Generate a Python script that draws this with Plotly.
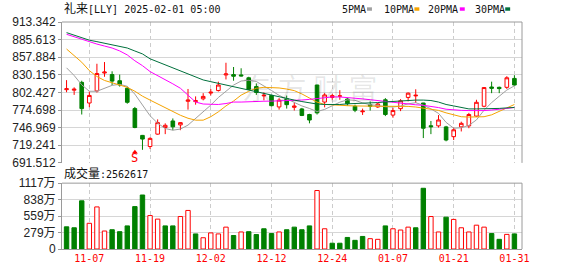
import plotly.graph_objects as go

# ---------------- data ----------------
dates = [
    "2024-11-04", "2024-11-05", "2024-11-06", "2024-11-07", "2024-11-08", "2024-11-11", "2024-11-12",
    "2024-11-13", "2024-11-14", "2024-11-15", "2024-11-18", "2024-11-19", "2024-11-20", "2024-11-21",
    "2024-11-22", "2024-11-25", "2024-11-26", "2024-11-27", "2024-11-29",
    "2024-12-02", "2024-12-03", "2024-12-04", "2024-12-05", "2024-12-06", "2024-12-09", "2024-12-10",
    "2024-12-11", "2024-12-12", "2024-12-13", "2024-12-16", "2024-12-17", "2024-12-18", "2024-12-19",
    "2024-12-20", "2024-12-23", "2024-12-24", "2024-12-26", "2024-12-27", "2024-12-30", "2024-12-31",
    "2025-01-02", "2025-01-03", "2025-01-06", "2025-01-07", "2025-01-08", "2025-01-10", "2025-01-13",
    "2025-01-14", "2025-01-15", "2025-01-16", "2025-01-17", "2025-01-21", "2025-01-22", "2025-01-23",
    "2025-01-24", "2025-01-27", "2025-01-28", "2025-01-29", "2025-01-30", "2025-01-31",
]

opens = [806.8, 806.0, 818.3, 785.8, 804.8, 833.0, 830.6, 820.9, 809.0, 777.0,
         734.8, 717.3, 736.8, 747.2, 757.5, 751.3, 788.5, 788.0, 792.4, 801.5,
         805.4, 830.0, 830.5, 830.0, 825.5, 811.6, 797.0, 797.7, 779.6, 792.4,
         779.0, 776.5, 767.7, 814.1, 787.3, 794.5, 796.5, 792.0, 780.7, 772.0,
         783.2, 779.6, 790.9, 766.8, 776.9, 794.6, 797.0, 785.8, 750.0, 749.8,
         748.2, 732.8, 748.2, 749.8, 765.2, 780.7, 811.0, 810.5, 810.5, 824.5]
highs = [821.8, 810.5, 820.9, 803.9, 847.6, 850.3, 835.7, 830.6, 811.6, 779.6,
         735.5, 731.7, 760.0, 753.8, 761.5, 755.5, 807.9, 796.2, 801.3, 807.9,
         819.4, 849.2, 842.5, 840.5, 827.1, 816.7, 802.5, 798.6, 793.5, 797.5,
         786.0, 778.1, 768.8, 814.5, 801.3, 800.2, 806.0, 793.5, 783.2, 777.0,
         788.4, 785.8, 793.5, 778.1, 791.9, 802.4, 807.4, 786.0, 757.5, 766.8,
         749.8, 747.2, 756.4, 770.3, 790.9, 810.5, 819.4, 811.6, 828.0, 829.6]
lows = [802.8, 798.6, 767.7, 779.2, 802.3, 827.1, 814.1, 811.6, 784.7, 746.1,
        712.1, 713.6, 735.9, 736.8, 743.0, 743.0, 775.4, 783.2, 790.0, 797.7,
        803.9, 822.9, 820.9, 827.5, 806.4, 798.6, 790.0, 780.7, 775.4, 777.0,
        774.0, 765.2, 753.8, 767.7, 779.0, 790.9, 790.9, 781.6, 771.4, 767.0,
        773.9, 778.1, 765.2, 762.6, 773.0, 788.4, 785.8, 730.6, 736.8, 747.2,
        725.5, 727.5, 741.0, 746.1, 763.7, 779.1, 801.3, 801.3, 808.0, 813.1]
closes = [808.2, 807.5, 777.0, 797.7, 832.2, 834.5, 820.3, 814.2, 786.9, 747.2,
          729.0, 730.1, 754.9, 750.7, 748.3, 754.9, 790.5, 789.5, 796.2, 802.8,
          814.1, 831.5, 828.0, 828.5, 807.4, 802.4, 798.0, 781.6, 790.4, 783.2,
          781.0, 766.2, 759.0, 770.3, 798.5, 797.5, 797.0, 784.7, 774.5, 773.0,
          780.7, 784.2, 767.7, 773.9, 789.3, 801.3, 798.0, 746.1, 748.5, 759.1,
          727.5, 743.6, 753.8, 767.7, 786.9, 810.1, 809.0, 808.5, 825.5, 814.1]
prev_close = 815.0  # close of the session before the first bar (sets first volume colour)

# volume in 万 (10,000 shares)
vol_wan = [376, 360, 817, 436, 714, 305, 327, 294, 392, 719,
           916, 567, 507, 392, 392, 551, 654, 256, 191, 273,
           256, 371, 229, 289, 294, 245, 343, 262, 289, 327,
           371, 327, 392, 992, 343, 98, 98, 196, 147, 213,
           175, 164, 392, 343, 322, 371, 360, 1030, 551, 289,
           540, 502, 360, 289, 404, 371, 262, 164, 248, 256.2617]
last_volume = 2562617

ma5 = [841.2, 829.1, 814.4, 804.3, 804.3, 809.0, 813.6, 815.2, 812.1, 799.7,
       782.7, 765.7, 754.1, 745.6, 743.0, 744.8, 751.0, 761.1, 771.9, 782.5,
       794.5, 805.0, 814.0, 820.4, 821.6, 819.7, 813.2, 805.5, 797.8, 792.3,
       787.0, 781.2, 777.2, 772.3, 775.7, 781.3, 787.1, 790.8, 790.0, 786.0,
       783.1, 781.8, 780.0, 779.5, 781.0, 784.5, 786.3, 782.2, 776.6, 769.5,
       755.3, 746.1, 746.8, 750.6, 759.2, 774.5, 786.4, 796.5, 806.2, 812.8]
ma10 = [870.8, 860.0, 850.0, 836.8, 827.5, 821.3, 817.5, 814.4, 810.5, 804.3,
        796.6, 790.4, 784.2, 778.1, 771.9, 766.5, 761.8, 758.8, 758.8, 764.2,
        771.9, 781.2, 788.9, 798.2, 804.3, 809.0, 810.5, 810.0, 809.5, 807.8,
        805.3, 800.1, 794.0, 787.2, 783.6, 782.7, 782.2, 781.6, 781.2, 780.7,
        780.7, 780.7, 780.7, 780.7, 780.7, 780.5, 779.5, 777.8, 776.5, 774.2,
        770.3, 767.2, 764.2, 763.7, 763.7, 764.2, 767.2, 772.7, 778.1, 783.5]
ma20 = [894.0, 890.2, 885.5, 881.6, 878.6, 875.5, 872.4, 867.8, 861.5, 852.3,
        844.6, 835.3, 829.1, 822.9, 816.0, 809.0, 798.2, 787.3, 784.2, 783.5,
        783.5, 785.0, 787.3, 787.3, 788.1, 788.4, 788.6, 788.8, 789.0, 789.3,
        789.8, 790.5, 791.5, 793.0, 794.8, 795.4, 795.3, 794.6, 793.5, 792.3,
        791.0, 789.5, 788.0, 786.5, 785.0, 784.0, 783.0, 782.2, 780.7, 778.6,
        776.0, 774.8, 774.2, 773.9, 773.5, 773.9, 774.8, 775.7, 777.3, 778.8]
ma30 = [896.6, 892.5, 887.8, 884.7, 882.4, 880.1, 877.8, 875.5, 872.4, 867.7,
        863.1, 855.4, 850.7, 846.1, 841.4, 836.8, 831.4, 826.8, 822.1, 819.4,
        816.7, 814.1, 811.3, 809.0, 805.9, 803.6, 800.5, 797.4, 795.1, 792.8,
        790.4, 788.1, 785.8, 784.2, 783.5, 783.2, 783.5, 784.5, 784.8, 785.0,
        785.5, 786.5, 787.5, 788.5, 789.5, 790.0, 790.4, 790.4, 789.7, 787.3,
        783.5, 781.2, 778.8, 776.5, 776.5, 776.5, 776.5, 777.3, 778.1, 778.8]

price_ticks = [691.512, 719.241, 746.969, 774.698, 802.427, 830.156, 857.884, 885.613, 913.342]
vol_ticks = [0, 279.25, 558.5, 837.75, 1117]
vol_tick_text = ["0", "279万", "559万", "838万", "1117万"]
date_ticks = ["2024-11-07", "2024-11-19", "2024-12-02", "2024-12-12",
              "2024-12-24", "2025-01-07", "2025-01-21", "2025-01-31"]
date_tick_text = ["11-07", "11-19", "12-02", "12-12", "12-24", "01-07", "01-21", "01-31"]
signal_date = "2024-11-15"
title_name = "礼来"
title_rest = "[LLY] 2025-02-01 05:00"
ma_names = ["5PMA", "10PMA", "20PMA", "30PMA"]

# ---------------- styles ----------------
RED = "#ff0000"
GREEN = "#008000"
MA_COLORS = ["#a0a0a0", "#f5a300", "#ff00ff", "#00703c"]
GRID = "#d6d6d6"
BORDER = "#9a9a9a"
MONO = "DejaVu Sans Mono, Noto Sans CJK SC"
SANS = "Liberation Sans, Noto Sans CJK SC"

W, H = 578, 276
L, R, T, B = 56, 56, 22, 22
PW, PH = W - L - R, H - T - B
main_dom = [(H - B - 166) / PH, 1.0]
vol_dom = [0.0, (H - B - 186.7) / PH]


def py(px):  # pixel row -> paper y
    return (H - B - px) / PH


def px_x(px):  # pixel column -> paper x
    return (px - L) / PW


fig = go.Figure()

fig.add_trace(go.Candlestick(
    x=dates, open=opens, high=highs, low=lows, close=closes,
    increasing=dict(line=dict(color=RED, width=1), fillcolor="#ffffff"),
    decreasing=dict(line=dict(color=GREEN, width=1), fillcolor=GREEN),
    whiskerwidth=0, showlegend=False, hoverinfo="skip",
    xaxis="x", yaxis="y",
))

for name, vals, col in zip(ma_names, [ma5, ma10, ma20, ma30], MA_COLORS):
    fig.add_trace(go.Scatter(x=dates, y=vals, mode="lines", name=name,
                             line=dict(color=col, width=1), showlegend=False,
                             hoverinfo="skip", xaxis="x", yaxis="y"))

prevs = [prev_close] + closes[:-1]
up = [c >= p for c, p in zip(closes, prevs)]
fig.add_trace(go.Bar(
    x=dates, y=vol_wan, width=0.58,
    marker=dict(color=["#ffffff" if u else GREEN for u in up],
                line=dict(color=[RED if u else GREEN for u in up], width=1)),
    showlegend=False, hoverinfo="skip", xaxis="x2", yaxis="y2",
))

xcommon = dict(type="category", categoryorder="array", categoryarray=dates,
               range=[-0.6, 60.0], tickvals=date_ticks, ticktext=date_tick_text,
               showgrid=True, gridcolor="#cccccc", griddash="4px,3px", gridwidth=1,
               zeroline=False, ticks="", fixedrange=True)

fig.update_layout(
    width=W, height=H,
    margin=dict(l=L, r=R, t=T, b=B, pad=0),
    paper_bgcolor="#ffffff", plot_bgcolor="#ffffff",
    bargap=0.3, boxgap=0.32,
    xaxis=dict(**xcommon, anchor="y", showticklabels=False, showline=False,
               rangeslider=dict(visible=False)),
    xaxis2=dict(**xcommon, anchor="y2", matches="x", showticklabels=True,
                showline=True, linecolor=BORDER, linewidth=1,
                tickfont=dict(family=MONO, size=10, color=RED)),
    yaxis=dict(domain=main_dom, range=[691.512, 913.342], tickvals=price_ticks,
               ticktext=["%.3f" % v for v in price_ticks],
               showgrid=True, gridcolor=GRID, zeroline=False,
               showline=True, linecolor=BORDER, linewidth=1,
               ticks="outside", ticklen=3, tickcolor=BORDER,
               tickfont=dict(family=SANS, size=12, color="#222222")),
    yaxis2=dict(domain=vol_dom, range=[0, 1117], tickvals=vol_ticks, ticktext=vol_tick_text,
                showgrid=True, gridcolor=GRID, zeroline=False,
                showline=True, linecolor=BORDER, linewidth=1,
                ticks="outside", ticklen=3, tickcolor=BORDER,
                tickfont=dict(family=SANS, size=12, color="#222222")),
)

shapes = [
    # main panel top & right borders
    dict(type="line", xref="paper", yref="paper", x0=0, x1=1, y0=1, y1=1,
         line=dict(color=BORDER, width=1)),
    dict(type="line", xref="paper", yref="paper", x0=1, x1=1, y0=main_dom[0], y1=1,
         line=dict(color=BORDER, width=1)),
    # volume panel top & right borders
    dict(type="line", xref="paper", yref="paper", x0=0, x1=1, y0=vol_dom[1], y1=vol_dom[1],
         line=dict(color=BORDER, width=1)),
    dict(type="line", xref="paper", yref="paper", x0=1, x1=1, y0=0, y1=vol_dom[1],
         line=dict(color=BORDER, width=1)),
]

# legend (text + colour swatch)
legend_text_x = [338, 380, 425, 472]
legend_sw_x = [365, 413, 459, 505]
annotations = []
for name, col, tx, sx in zip(ma_names, MA_COLORS, legend_text_x, legend_sw_x):
    annotations.append(dict(xref="paper", yref="paper", x=px_x(tx), y=py(9),
                            xanchor="left", yanchor="middle", showarrow=False,
                            text=name, font=dict(family=MONO, size=10, color="#111111")))
    shapes.append(dict(type="rect", xref="paper", yref="paper",
                       x0=px_x(sx), x1=px_x(sx + 5), y0=py(10.5), y1=py(7),
                       fillcolor=col, line=dict(width=0)))

# signal arrow: small red triangle above the "S" letter
sig_i = dates.index(signal_date)
shapes.append(dict(type="path", xref="x", yref="paper", xsizemode="pixel", xanchor=sig_i,
                   path="M -3,%.4f L 3,%.4f L 0,%.4f Z" % (py(156.5), py(156.5), py(152.5)),
                   fillcolor=RED, line=dict(width=0)))

annotations += [
    dict(xref="paper", yref="paper", x=px_x(56), y=py(8.5), xanchor="left", yanchor="middle",
         showarrow=False, font=dict(family=MONO, size=10, color="#111111"),
         text="<span style='font-size:12px'>%s</span>%s" % (title_name, title_rest)),
    dict(xref="paper", yref="paper", x=px_x(56), y=py(177), xanchor="left", yanchor="middle",
         showarrow=False, font=dict(family=MONO, size=10, color="#111111"),
         text="<span style='font-size:12px'>成交量</span>:%d" % last_volume),
    # watermark
    dict(xref="paper", yref="paper", x=px_x(307), y=py(88), xanchor="center", yanchor="middle",
         showarrow=False, font=dict(family="Noto Sans CJK SC", size=29, color="rgba(0,0,0,0.10)"),
         text="东 方 财 富"),
    # signal marker letter
    dict(xref="x", yref="paper", x=signal_date, y=py(161.5), xanchor="center", yanchor="middle",
         showarrow=False, font=dict(family=MONO, size=12, color=RED), text="S",
         borderpad=0),
]

fig.update_layout(shapes=shapes, annotations=annotations)
fig.write_html("out.html")
